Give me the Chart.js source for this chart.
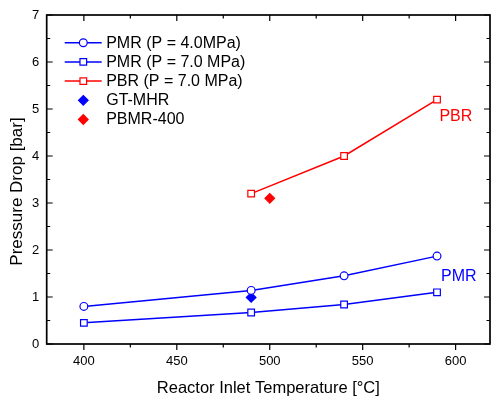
<!DOCTYPE html>
<html><head><meta charset="utf-8">
<script src="https://cdn.jsdelivr.net/npm/chart.js@4/dist/chart.umd.min.js"></script>
<style>html,body{margin:0;padding:0;background:#fff}#wrap{width:492px;height:398px}</style>
</head><body><div id="wrap"><canvas id="c" width="492" height="398"></canvas></div>
<script>
// ---- data ----
const temps = [400, 490, 540, 590];
const pmr40 = [0.80, 1.14, 1.45, 1.87];
const pmr70 = [0.45, 0.67, 0.84, 1.10];
const pbrTemps = [490, 540, 590];
const pbr70 = [3.20, 4.00, 5.20];
const gtTemps = [490];
const gtVals = [0.99];
const pbmrTemps = [500];
const pbmrVals = [3.10];
const seriesNames = ['PMR (P = 4.0MPa)', 'PMR (P = 7.0 MPa)', 'PBR (P = 7.0 MPa)', 'GT-MHR', 'PBMR-400'];
const xTicks = [400, 450, 500, 550, 600];
const xMinor = [425, 475, 525, 575];
const yTicks = [0, 1, 2, 3, 4, 5, 6, 7];
const yMinor = [0.5, 1.5, 2.5, 3.5, 4.5, 5.5, 6.5];
const xTitle = 'Reactor Inlet Temperature [°C]';
const yTitle = 'Pressure Drop [bar]';
const annoText = ['PBR', 'PMR'];
const annoX = [591.3, 592.2];
const annoY = [4.84, 1.44];
const annoColor = ['#ff0000', '#0000ff'];

const BLUE = '#0000ff', RED = '#ff0000';
const FONT = '"Liberation Sans", Arial, sans-serif';
const pts = (xs, ys) => xs.map((x, i) => ({x, y: ys[i]}));

function drawMarker(ctx, style, r, x, y, fill, stroke, bw) {
  ctx.save();
  ctx.beginPath();
  if (style === 'circle') ctx.arc(x, y, r, 0, Math.PI * 2);
  else if (style === 'rect') { const s = r * Math.SQRT1_2; ctx.rect(x - s, y - s, 2 * s, 2 * s); }
  else if (style === 'rectRot') { ctx.moveTo(x - r, y); ctx.lineTo(x, y - r); ctx.lineTo(x + r, y); ctx.lineTo(x, y + r); ctx.closePath(); }
  ctx.fillStyle = fill; ctx.fill();
  ctx.lineWidth = bw; ctx.strokeStyle = stroke; ctx.stroke();
  ctx.restore();
}

const framePlugin = {
  id: 'frame',
  afterDatasetsDraw(chart) {
    const {ctx, chartArea: a, scales} = chart;
    const xs = scales.x, ys = scales.y;
    ctx.save();
    ctx.strokeStyle = '#000';
    ctx.lineWidth = 1.7;
    ctx.strokeRect(a.left, a.top, a.right - a.left, a.bottom - a.top);
    ctx.lineWidth = 1.2;
    ctx.beginPath();
    const xt = (v, len) => {
      const p = xs.getPixelForValue(v);
      ctx.moveTo(p, a.bottom); ctx.lineTo(p, a.bottom + len);
      ctx.moveTo(p, a.top); ctx.lineTo(p, a.top + len);
    };
    const yt = (v, len) => {
      const p = ys.getPixelForValue(v);
      ctx.moveTo(a.left, p); ctx.lineTo(a.left + len, p);
      ctx.moveTo(a.right, p); ctx.lineTo(a.right - len, p);
    };
    xTicks.forEach(v => xt(v, 6)); xMinor.forEach(v => xt(v, 3.5));
    yTicks.forEach(v => yt(v, 6)); yMinor.forEach(v => yt(v, 3.5));
    ctx.stroke();
    // y axis title (rotated)
    ctx.save();
    ctx.fillStyle = '#000';
    ctx.font = '17px ' + FONT;
    ctx.textAlign = 'center';
    ctx.textBaseline = 'alphabetic';
    ctx.translate(22.4, (a.top + a.bottom) / 2 + 12);
    ctx.rotate(-Math.PI / 2);
    ctx.fillText(yTitle, 0, 0);
    ctx.restore();
    // annotations
    ctx.font = '16px ' + FONT;
    ctx.textBaseline = 'middle';
    ctx.textAlign = 'left';
    annoText.forEach((t, i) => {
      ctx.fillStyle = annoColor[i];
      ctx.fillText(t, xs.getPixelForValue(annoX[i]), ys.getPixelForValue(annoY[i]));
    });
    // legend
    const lx0 = a.left + 18, lx1 = a.left + 55, mx = a.left + 36.6, tx = a.left + 59.5;
    chart.data.datasets.forEach((ds, i) => {
      const y = a.top + 27.7 + i * 19.2;
      if (ds.showLine) {
        ctx.beginPath(); ctx.strokeStyle = ds.borderColor; ctx.lineWidth = ds.borderWidth;
        ctx.moveTo(lx0, y); ctx.lineTo(lx1, y); ctx.stroke();
      }
      drawMarker(ctx, ds.pointStyle, ds.pointRadius, mx, y, ds.pointBackgroundColor, ds.pointBorderColor, ds.pointBorderWidth);
      ctx.fillStyle = '#000';
      ctx.font = '16px ' + FONT;
      ctx.fillText(ds.label, tx, y + 0.5);
    });
    ctx.restore();
  }
};

const mk = (label, data, color, style, r, fill, line) => ({
  label, data, showLine: line, borderColor: color, borderWidth: 1.5,
  pointStyle: style, pointRadius: r, pointHoverRadius: r,
  pointBackgroundColor: fill, pointBorderColor: color, pointBorderWidth: 1.2,
  backgroundColor: fill, fill: false, tension: 0
});

new Chart(document.getElementById('c'), {
  type: 'scatter',
  data: {
    datasets: [
      mk(seriesNames[0], pts(temps, pmr40), BLUE, 'circle', 3.9, '#fff', true),
      mk(seriesNames[1], pts(temps, pmr70), BLUE, 'rect', 4.7, '#fff', true),
      mk(seriesNames[2], pts(pbrTemps, pbr70), RED, 'rect', 4.7, '#fff', true),
      mk(seriesNames[3], pts(gtTemps, gtVals), BLUE, 'rectRot', 4.8, BLUE, false),
      mk(seriesNames[4], pts(pbmrTemps, pbmrVals), RED, 'rectRot', 4.8, RED, false)
    ]
  },
  options: {
    responsive: false,
    devicePixelRatio: 1,
    animation: false,
    layout: {autoPadding: false, padding: {left: 0, right: 2, top: 15, bottom: 0}},
    plugins: {legend: {display: false}, tooltip: {enabled: false}},
    scales: {
      x: {
        type: 'linear', min: 380, max: 618.5,
        afterBuildTicks: s => { s.ticks = xTicks.map(v => ({value: v})); },
        afterFit: s => { s.height = 54; s.paddingLeft = 0; s.paddingRight = 0; },
        grid: {display: false, drawTicks: false},
        border: {display: false},
        ticks: {color: '#000', font: {family: FONT, size: 13}, padding: 10, maxRotation: 0},
        title: {display: true, text: xTitle, color: '#000', font: {family: FONT, size: 16.5}, padding: {top: 0, bottom: 0}}
      },
      y: {
        type: 'linear', min: 0, max: 7,
        afterBuildTicks: s => { s.ticks = yTicks.map(v => ({value: v})); },
        afterFit: s => { s.width = 46.7; s.paddingTop = 0; s.paddingBottom = 0; },
        grid: {display: false, drawTicks: false},
        border: {display: false},
        ticks: {color: '#000', font: {family: FONT, size: 13}, padding: 7.5},
        title: {display: false}
      }
    }
  },
  plugins: [framePlugin]
});
</script></body></html>
